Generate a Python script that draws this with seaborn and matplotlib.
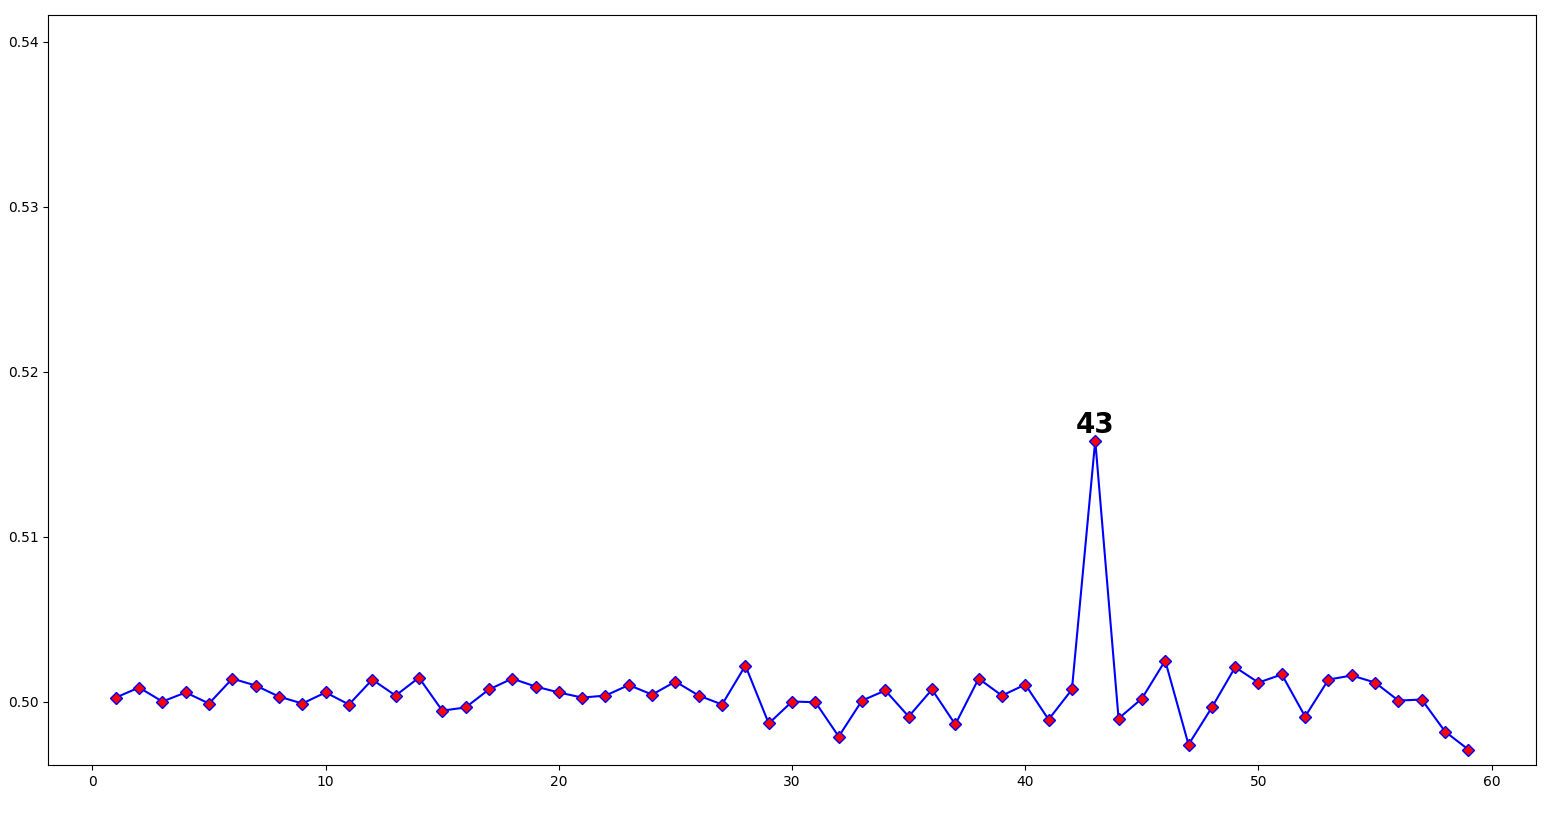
import numpy as np
import pandas as pd
import matplotlib
matplotlib.use("Agg")
import matplotlib.pyplot as plt
import seaborn as sns

# valores
epocas = list(range(1, 60))
valores = [
    0.50024, 0.50085, 0.50000, 0.50055, 0.49988, 0.50139, 0.50097, 0.50030, 0.49988, 0.50055,
    0.49982, 0.50133, 0.50036, 0.50145, 0.49945, 0.49964, 0.50073, 0.50139, 0.50091, 0.50055,
    0.50024, 0.50036, 0.50100, 0.50042, 0.50121, 0.50036, 0.49982, 0.50218, 0.49867, 0.50000,
    0.49996, 0.49788, 0.50006, 0.50067, 0.49909, 0.50073, 0.49861, 0.50139, 0.50036, 0.50103,
    0.49891, 0.50073, 0.51582, 0.49897, 0.50018, 0.50248, 0.49739, 0.49964, 0.50208, 0.50115,
    0.50164, 0.49909, 0.50133, 0.50158, 0.50115, 0.50006, 0.50012, 0.49818, 0.49709,
]

df = pd.DataFrame({"epoca": epocas, "valor": valores})

fig, ax = plt.subplots(figsize=(15.52, 8.16), dpi=100)
sns.lineplot(data=df, x="epoca", y="valor", ax=ax, color="blue", linewidth=1.5,
             marker="D", markersize=6, markerfacecolor="red", markeredgecolor="blue",
             markeredgewidth=1)

# destaque do máximo
idx = int(np.argmax(valores))
ax.annotate(str(epocas[idx]), xy=(epocas[idx], valores[idx]), xytext=(0, 1),
            textcoords="offset points", ha="center", va="bottom",
            fontsize=20, fontweight="bold")

ax.set_ylim(top=max(valores) * 1.05)
ax.set_xlabel("")
ax.set_ylabel("")
ax.set_yticks([0.50, 0.51, 0.52, 0.53, 0.54])

fig.subplots_adjust(left=0.031, right=0.9897, top=0.9816, bottom=0.0625)
fig.savefig("out.png", dpi=100)
